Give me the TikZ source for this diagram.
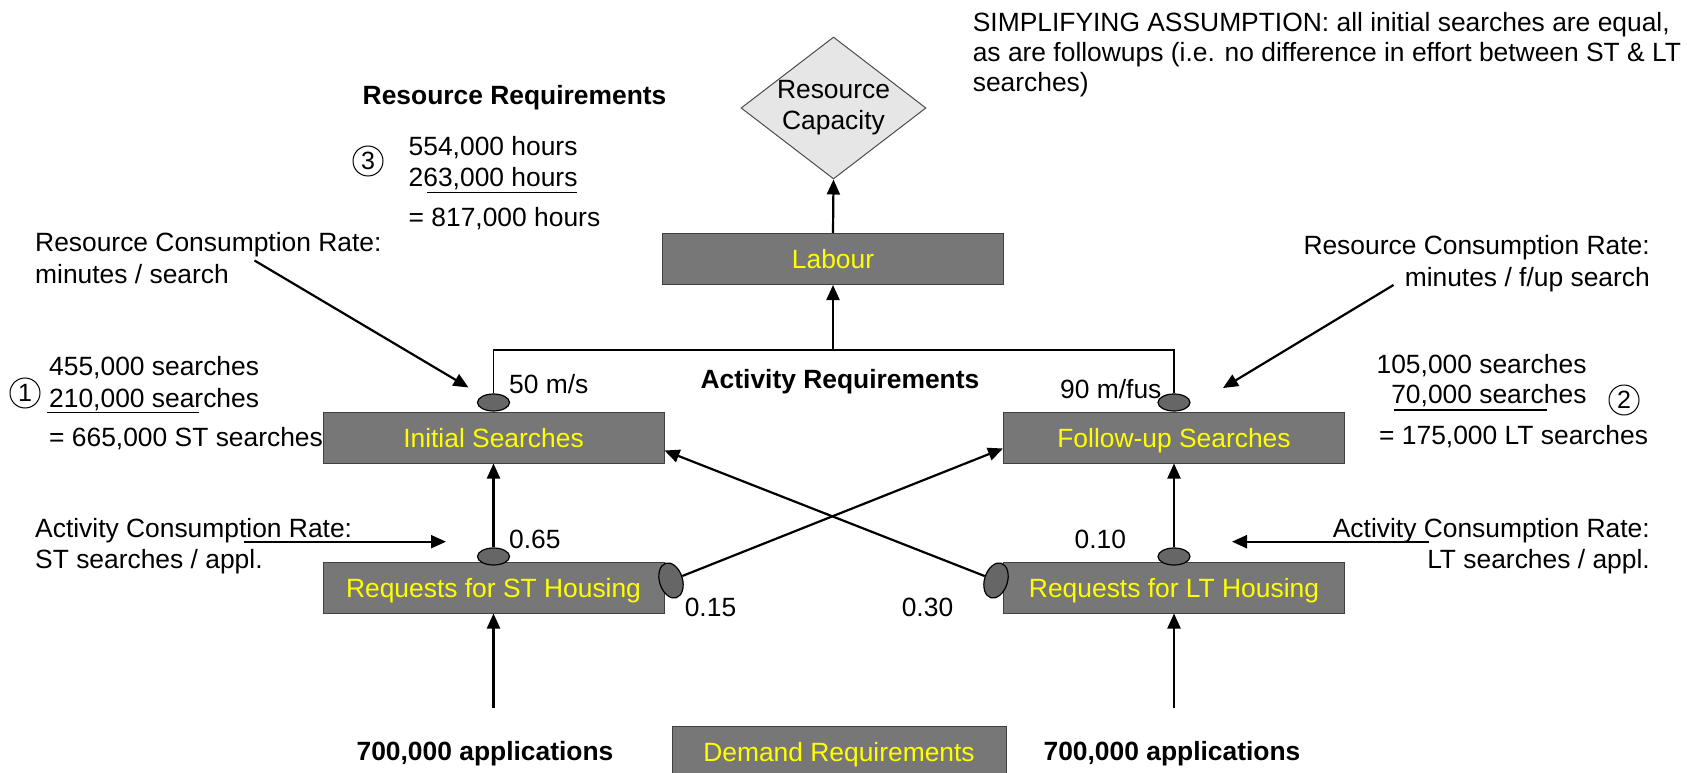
\documentclass[tikz,border=0pt]{standalone}
\usepackage{fontspec}
\setmainfont{Liberation Sans}
\usetikzlibrary{arrows.meta,shapes.geometric,calc}
\definecolor{boxgray}{HTML}{777777}
\definecolor{boxyellow}{HTML}{FFFF00}
\definecolor{diamgray}{HTML}{E6E6E6}
\definecolor{knobgray}{HTML}{666666}
\begin{document}
\begin{tikzpicture}[x=1pt,y=-1pt,
  txt/.style={font=\fontsize{26.4}{30}\selectfont, inner sep=0pt},
  btxt/.style={font=\fontsize{26.4}{30}\selectfont\bfseries, inner sep=0pt},
  box/.style={draw=black!75, line width=1pt, fill=boxgray, text=boxyellow,
    minimum width=341pt, minimum height=51pt, inner sep=0pt,
    text height=19pt, text depth=0pt, font=\fontsize{26.4}{30}\selectfont},
  knob/.style={ellipse, draw=black, line width=1.2pt, fill=knobgray,
    minimum width=32pt, minimum height=17pt, inner sep=0pt},
  sknob/.style={ellipse, draw=black, line width=1.2pt, fill=knobgray,
    minimum width=23pt, minimum height=36pt, inner sep=0pt},
  arr/.style={line width=2.2pt, -{Triangle[length=15pt,width=13pt]}},
  thinln/.style={line width=1.3pt},
  circnum/.style={circle, draw=black, line width=1pt, minimum size=30pt,
    inner sep=0pt, font=\fontsize{25}{25}\selectfont},
]
\useasboundingbox (0,0) rectangle (1687,773);

% ---------- boxes ----------
\node[diamond, draw=black!70, line width=1pt, fill=diamgray, aspect=1.3,
  minimum width=185pt, minimum height=142pt, inner sep=0pt, align=center,
  font=\fontsize{26.4}{31}\selectfont] (cap) at (833.5,108) {Resource\\Capacity};
\node[box] (lab) at (833,259) {Labour};
\node[box] (is) at (493.5,437.5) {Initial Searches};
\node[box] (fu) at (1174,437.5) {Follow-up Searches};
\node[box] (st) at (493.5,587.5) {Requests for ST Housing};
\node[box] (lt) at (1174,587.5) {Requests for LT Housing};
\node[box, minimum width=334pt, minimum height=52pt] (dem) at (839,752) {Demand Requirements};

% ---------- knobs ----------
\node[knob] (k1) at (493.5,402.5) {};
\node[knob] (k2) at (1174,402.5) {};
\node[knob] (k5) at (493.5,556.5) {};
\node[knob] (k6) at (1174,556.5) {};
\node[sknob, rotate=17] (k3) at (671,580.5) {};
\node[sknob, rotate=-17] (k4) at (996,580.5) {};

% ---------- connectors ----------
\draw[arr] (lab.north) -- (cap.south);
\draw[thinln] (k1.north) -- (k1.north |- 0,350) -- (k2.north |- 0,350) -- (k2.north);
\draw[arr] (lab.south |- 0,350) -- (lab.south);
\draw[arr] (k5.north) -- (is.south);
\draw[arr] (k6.north) -- (fu.south);
\draw[arr] (k3) -- ($(fu.west)+(0,11)$);
\draw[arr] (k4) -- ($(is.east)+(0,13)$);
\coordinate (inL) at (493.5,708);
\coordinate (inR) at (1174,708);
\draw[arr] (inL) -- (st.south);
\draw[arr] (inR) -- (lt.south);

\coordinate (rcLs) at (254.5,260.5);
\coordinate (rcLt) at (468.5,387.5);
\draw[arr] (rcLs) -- (rcLt);
\coordinate (rcRs) at (1393.5,285);
\coordinate (rcRt) at (1223,388);
\draw[arr] (rcRs) -- (rcRt);
\coordinate (acLs) at (244,541.7);
\coordinate (acLt) at (446,541.7);
\draw[arr] (acLs) -- (acLt);
\coordinate (acRs) at (1429,541.7);
\coordinate (acRt) at (1232,541.7);
\draw[arr] (acRs) -- (acRt);

% ---------- texts ----------
\node[txt, anchor=base west, align=left] (assume) at (972.6,91.7)
  {SIMPLIFYING ASSUMPTION: all initial searches are equal,\\as are followups (i.e. no difference in effort between ST \& LT\\searches)};
\node[btxt, anchor=base west] (resreq) at (362.5,105) {Resource Requirements};
\node[circnum] (c3) at (368,161) {3};
\node[txt, anchor=base west] (h1) at (408.5,156) {554,000 hours};
\node[txt, anchor=base west] (h2) at (408.5,186.7) {263,000 hours};
\node[txt, anchor=base west] (h3) at (408.5,226) {= 817,000 hours};
\draw[thinln] (427,192.7) -- (577,192.7);

\node[txt, anchor=base west, align=left] (rcL) at (35,283) {Resource Consumption Rate:\\[2pt]minutes / search};
\node[txt, anchor=base east, align=right] (rcR) at (1650,286) {Resource Consumption Rate:\\[2pt]minutes / f/up search};

\node[circnum] (c1) at (25,393) {1};
\node[txt, anchor=base west] (s1) at (49,375) {455,000 searches};
\node[txt, anchor=base west] (s2) at (49,407) {210,000 searches};
\node[txt, anchor=base west] (s3) at (49,446) {= 665,000 ST searches};
\draw[thinln] (47,412.7) -- (199,412.7);

\node[txt, anchor=base east] (r1) at (1586.7,373) {105,000 searches};
\node[txt, anchor=base east] (r2) at (1586.7,403.5) {70,000 searches};
\node[txt, anchor=base west] (r3) at (1379,444) {= 175,000 LT searches};
\draw[thinln] (1394,410) -- (1547,410);
\node[circnum] (c2) at (1624,400) {2};

\node[txt, anchor=base west] (ms) at (509,393.3) {50 m/s};
\node[txt, anchor=base west] (mf) at (1060,398) {90 m/fus};
\node[btxt, anchor=base] (actreq) at (840,388.3) {Activity Requirements};

\node[txt, anchor=base west, align=left] (acL) at (35,568) {Activity Consumption Rate:\\[1pt]ST searches / appl.};
\node[txt, anchor=base east, align=right] (acR) at (1650,568) {Activity Consumption Rate:\\[1pt]LT searches / appl.};

\node[txt, anchor=base west] (v65) at (509,548) {0.65};
\node[txt, anchor=base west] (v10) at (1074.5,548) {0.10};
\node[txt, anchor=base] (v15) at (710.5,616.7) {0.15};
\node[txt, anchor=base] (v30) at (927.5,616.7) {0.30};

\node[btxt, anchor=base] (appL) at (485,760) {700,000 applications};
\node[btxt, anchor=base] (appR) at (1172,760) {700,000 applications};
\end{tikzpicture}
\end{document}
